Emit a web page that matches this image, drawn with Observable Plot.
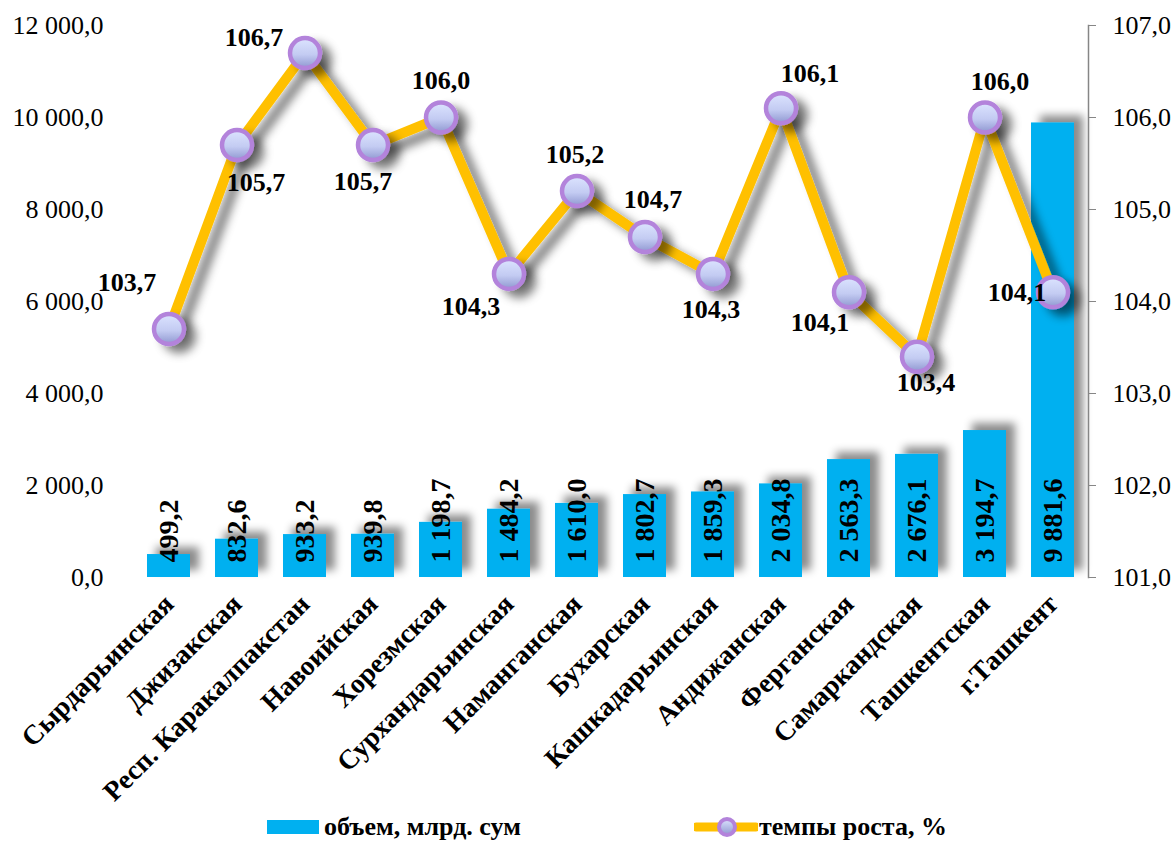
<!DOCTYPE html>
<html>
<head>
<meta charset="utf-8">
<script src="https://cdn.jsdelivr.net/npm/d3@7"></script>
<script src="https://cdn.jsdelivr.net/npm/@observablehq/plot@0.6"></script>
<style>
  html, body { margin: 0; padding: 0; background: #fff; }
  #wrap { position: relative; width: 1175px; height: 843px; font-family: "Liberation Serif", "Times New Roman", serif; }
  #legend { position: absolute; left: 0; top: 805px; width: 1175px; height: 38px; }
  .li { position: absolute; top: 7px; display: flex; align-items: center; font-weight: bold; font-size: 26px; color: #000; }
  svg text { font-family: "Liberation Serif", "Times New Roman", serif; }
</style>
</head>
<body>
<div id="wrap">
  <div id="chart"></div>
  <div id="legend">
    <div class="li" style="left:267px;"><span style="display:inline-block;width:52px;height:14px;background:#00B0F0;margin-right:5px;"></span>объем, млрд. сум</div>
    <div class="li" style="left:694px;"><svg width="64" height="24" style="margin-right:1px;"><line x1="2" y1="12" x2="62" y2="12" stroke="#FFC000" stroke-width="9" stroke-linecap="round"/><circle cx="33" cy="12" r="8" fill="url(#legGrad)" stroke="#B383DB" stroke-width="4"/><defs><linearGradient id="legGrad" x1="0" y1="0" x2="0" y2="1"><stop offset="0" stop-color="#DCE4FF"/><stop offset="1" stop-color="#8F97D0"/></linearGradient></defs></svg>темпы роста, %</div>
  </div>
</div>
<script>
const regions = ["Сырдарьинская","Джизакская","Респ. Каракалпакстан","Навоийская","Хорезмская","Сурхандарьинская","Наманганская","Бухарская","Кашкадарьинская","Андижанская","Ферганская","Самаркандская","Ташкентская","г.Ташкент"];
const volume = [499.2, 832.6, 933.2, 939.8, 1198.7, 1484.2, 1610.0, 1802.7, 1859.3, 2034.8, 2563.3, 2676.1, 3194.7, 9881.6];
const growth = [103.7, 105.7, 106.7, 105.7, 106.0, 104.3, 105.2, 104.7, 104.3, 106.1, 104.1, 103.4, 106.0, 104.1];
const leftTicks = [0, 2000, 4000, 6000, 8000, 10000, 12000];
const rightTicks = [101, 102, 103, 104, 105, 106, 107];

// label placement (style): pixel offsets of growth labels from their points
const labelDx = [-42, 19, -51, -10, 0, -38, -2, 8, -2, 29, -29, 9, 15, -36];
const labelDy = [-46, 38, -15, 37, -37, 33, -36, -37, 36, -35, 30, 26, -36, 0];

const FONT = "Liberation Serif, Times New Roman, serif";
const locale = d3.formatLocale({decimal: ",", thousands: "\u00a0", grouping: [3], currency: ["", ""]});
const fmt = locale.format(",.1f");

// map right-axis values (101..107) onto the left scale (0..12000)
const r2l = v => (v - 101) * 2000;

const data = regions.map((r, i) => ({region: r, volume: volume[i], growth: growth[i]}));

const labelMarks = data.map((d, i) => Plot.text([d], {
  x: "region", y: e => r2l(e.growth), text: e => fmt(e.growth),
  dx: labelDx[i], dy: labelDy[i], fontSize: 26, fontWeight: "bold", fill: "#000", fontFamily: FONT,
  textAnchor: "middle", lineAnchor: "middle"
}));

const chart = Plot.plot({
  width: 1175,
  height: 805,
  marginLeft: 133,
  marginRight: 87,
  marginTop: 25,
  marginBottom: 228,
  style: {fontFamily: FONT, background: "#fff", overflow: "visible"},
  x: {domain: regions, paddingInner: 0.37, paddingOuter: 0.185, label: null},
  y: {domain: [0, 12000], label: null},
  marks: [
    Plot.barY(data, {x: "region", y: "volume", fill: "#00B0F0"}),
    Plot.text(data, {x: "region", y: d => 0, text: d => fmt(d.volume), rotate: -90, textAnchor: "start", lineAnchor: "middle", dy: -15, fontSize: 28, fontWeight: "bold", fill: "#000", fontFamily: FONT}),
    Plot.line(data, {x: "region", y: d => r2l(d.growth), stroke: "#FFC000", strokeWidth: 10, strokeLinejoin: "round"}),
    Plot.dot(data, {x: "region", y: d => r2l(d.growth), r: 15, fill: "url(#dotGrad)", stroke: "#B383DB", strokeWidth: 4.5}),
    ...labelMarks,
    Plot.axisY({anchor: "left", ticks: leftTicks, tickFormat: fmt, tickSize: 0, tickPadding: 30, fontSize: 26, fontFamily: FONT, label: null}),
    Plot.axisY({anchor: "right", ticks: rightTicks.map(r2l), tickFormat: d => fmt(101 + d / 2000), tickSize: 7, tickPadding: 17, fontSize: 26, fontFamily: FONT, stroke: "#868686", label: null}),
    Plot.frame({anchor: "right", stroke: "#868686", strokeWidth: 1.5}),
    Plot.axisX({tickRotate: -45, tickSize: 0, tickPadding: 22, fontSize: 27.5, fontWeight: "bold", fontFamily: FONT, label: null})
  ]
});

document.getElementById("chart").appendChild(chart);

// defs: gradient and shadows
const svg = d3.select(chart);
const defs = svg.insert("defs", ":first-child");
const g = defs.append("linearGradient").attr("id", "dotGrad").attr("x1", 0).attr("y1", 0).attr("x2", 0).attr("y2", 1);
g.append("stop").attr("offset", 0).attr("stop-color", "#DCE4FF");
g.append("stop").attr("offset", 0.55).attr("stop-color", "#C3CBF2");
g.append("stop").attr("offset", 1).attr("stop-color", "#8F97D0");

function shadow(id, dx, dy, sd, op) {
  const f = defs.append("filter").attr("id", id).attr("x", "-20%").attr("y", "-20%").attr("width", "140%").attr("height", "140%");
  f.append("feGaussianBlur").attr("in", "SourceAlpha").attr("stdDeviation", sd).attr("result", "b");
  f.append("feOffset").attr("in", "b").attr("dx", dx).attr("dy", dy).attr("result", "o");
  f.append("feFlood").attr("flood-color", "#000").attr("flood-opacity", op).attr("result", "c");
  f.append("feComposite").attr("in", "c").attr("in2", "o").attr("operator", "in").attr("result", "s");
  const m = f.append("feMerge");
  m.append("feMergeNode").attr("in", "s");
  m.append("feMergeNode").attr("in", "SourceGraphic");
}
shadow("barShadow", 9, -7, 4, 0.45);
shadow("lineShadow", 10, 7, 5, 0.5);
svg.selectAll('g[aria-label="bar"]').attr("filter", "url(#barShadow)");
svg.selectAll('g[aria-label="line"]').attr("filter", "url(#lineShadow)");
svg.selectAll('g[aria-label="dot"]').attr("filter", "url(#lineShadow)");
</script>
</body>
</html>
